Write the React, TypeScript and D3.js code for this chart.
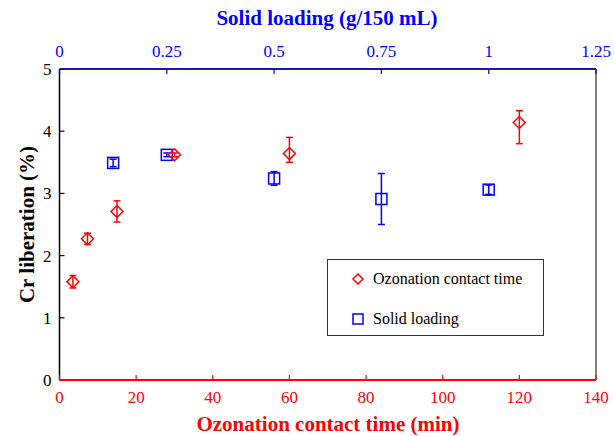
import React from "react";
import * as d3 from "d3";

const timeX = [3.5, 7.3, 15, 30, 60, 120];
const timeY = [1.58, 2.27, 2.71, 3.62, 3.64, 4.14];
const timeErrLo = [0.1, 0.09, 0.17, 0.03, 0.14, 0.34];
const timeErrHi = [0.1, 0.09, 0.17, 0.03, 0.26, 0.19];

const loadX = [0.125, 0.25, 0.5, 0.75, 1.0];
const loadY = [3.49, 3.62, 3.24, 2.91, 3.06];
const loadErr = [0.06, 0.03, 0.11, 0.41, 0.075];

const bottomTicks = [0, 20, 40, 60, 80, 100, 120, 140];
const topTicks = [0, 0.25, 0.5, 0.75, 1, 1.25];
const leftTicks = [0, 1, 2, 3, 4, 5];

const W = 614, H = 436;
const L = 59.5, R = 596, T = 69, B = 380;
const RED = "#ff0000";
const BLUE = "#0000ff";
const FONT = '"Liberation Serif", "Times New Roman", Times, serif';

export default function App() {
  const xB = d3.scaleLinear().domain([0, 140]).range([L, R]);
  const xT = d3.scaleLinear().domain([0, 1.25]).range([L, R]);
  const y = d3.scaleLinear().domain([0, 5]).range([B, T]);
  const cap = 3.5;
  const diamond = (cx: number, cy: number, r = 6) =>
    `M${cx},${cy - r}L${cx + r},${cy}L${cx},${cy + r}L${cx - r},${cy}Z`;

  return (
    <svg width={W} height={H} style={{ position: "absolute", left: 0, top: 0, fontFamily: FONT }}>
      <rect width={W} height={H} fill="#fff" />
      {/* right axis */}
      <line x1={R} x2={R} y1={T} y2={B} stroke="#808080" strokeWidth={2} />
      {/* left axis */}
      <line x1={L} x2={L} y1={T} y2={B} stroke="#000" strokeWidth={1.5} />
      {leftTicks.map((t) => (
        <g key={"l" + t}>
          <line x1={L} x2={L + 5} y1={y(t)} y2={y(t)} stroke="#000" strokeWidth={1.2} />
          <text x={L - 8} y={y(t)} dy="0.35em" textAnchor="end" fontSize={17} fill="#000">{t}</text>
        </g>
      ))}
      {/* top axis */}
      <line x1={L} x2={R} y1={T} y2={T} stroke="#1a1aaa" strokeWidth={2} />
      {topTicks.map((t) => (
        <g key={"t" + t}>
          <line x1={xT(t)} x2={xT(t)} y1={T} y2={T + 5} stroke={BLUE} strokeWidth={1.2} />
          <text x={xT(t)} y={T - 12} textAnchor="middle" fontSize={17} fill={BLUE}>{t}</text>
        </g>
      ))}
      {/* bottom axis */}
      <line x1={L} x2={R} y1={B} y2={B} stroke={RED} strokeWidth={2} />
      {bottomTicks.map((t) => (
        <g key={"b" + t}>
          <line x1={xB(t)} x2={xB(t)} y1={B} y2={B - 5} stroke={RED} strokeWidth={1.2} />
          <text x={xB(t)} y={B + 23} textAnchor="middle" fontSize={17} fill={RED}>{t}</text>
        </g>
      ))}
      {/* titles */}
      <text x={327} y={25} textAnchor="middle" fontSize={21} fontWeight="bold" fill={BLUE}>Solid loading (g/150 mL)</text>
      <text x={328} y={431} textAnchor="middle" fontSize={21} fontWeight="bold" fill={RED}>Ozonation contact time (min)</text>
      <text transform={`translate(34,${(T + B) / 2}) rotate(-90)`} textAnchor="middle" fontSize={21} fontWeight="bold" fill="#000">Cr liberation (%)</text>

      {/* solid loading series */}
      {loadX.map((v, i) => {
        const cx = xT(v), cy = y(loadY[i]);
        const y1 = y(loadY[i] + loadErr[i]), y2 = y(loadY[i] - loadErr[i]);
        return (
          <g key={"s" + i} stroke={BLUE} fill="none" strokeWidth={1.5}>
            <rect x={cx - 5.5} y={cy - 5.5} width={11} height={11} />
            <line x1={cx} x2={cx} y1={y1} y2={y2} />
            <line x1={cx - cap} x2={cx + cap} y1={y1} y2={y1} />
            <line x1={cx - cap} x2={cx + cap} y1={y2} y2={y2} />
          </g>
        );
      })}
      {/* ozonation series */}
      {timeX.map((v, i) => {
        const cx = xB(v), cy = y(timeY[i]);
        const y1 = y(timeY[i] + timeErrHi[i]), y2 = y(timeY[i] - timeErrLo[i]);
        return (
          <g key={"o" + i} stroke={RED} fill="none" strokeWidth={1.5}>
            <path d={diamond(cx, cy)} />
            <line x1={cx} x2={cx} y1={y1} y2={y2} />
            <line x1={cx - cap} x2={cx + cap} y1={y1} y2={y1} />
            <line x1={cx - cap} x2={cx + cap} y1={y2} y2={y2} />
          </g>
        );
      })}

      {/* legend */}
      <rect x={327.5} y={259.5} width={216} height={76} fill="#fff" stroke="#333" strokeWidth={1} />
      <path d={diamond(358, 279, 5)} stroke={RED} fill="none" strokeWidth={1.5} />
      <text x={373} y={284} fontSize={16} fill="#000">Ozonation contact time</text>
      <rect x={353} y={314} width={10} height={10} stroke={BLUE} fill="none" strokeWidth={1.5} />
      <text x={373} y={324} fontSize={16} fill="#000">Solid loading</text>
    </svg>
  );
}
